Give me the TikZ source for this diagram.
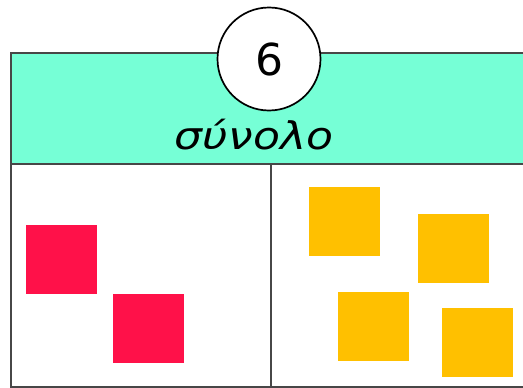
\documentclass[tikz,border=0pt]{standalone}
\usepackage{fontspec}
\setmainfont{DejaVu Sans}
\usetikzlibrary{positioning}
\definecolor{headcolor}{RGB}{118,255,214}
\definecolor{redcolor}{RGB}{255,17,73}
\definecolor{yellowcolor}{RGB}{255,192,0}
\tikzset{
  cellln/.style={draw=black!72, line width=1.3pt},
  sqbox/.style={inner sep=0pt, minimum width=71pt, minimum height=69pt},
  redsq/.style={sqbox, fill=redcolor},
  yellowsq/.style={sqbox, fill=yellowcolor},
}
\begin{document}
\begin{tikzpicture}[x=1pt,y=-1pt]
  \useasboundingbox (0,0) rectangle (523,388);
  % ----- header -----
  \fill[headcolor] (11,53) rectangle (524,164);
  \draw[cellln] (524,53) -- (11,53) -- (11,387) -- (524,387);
  \draw[cellln] (11,164) -- (524,164);
  \draw[cellln] (271,164) -- (271,387);
  \node[circle, draw=black, line width=1.7pt, fill=white, minimum size=103pt,
        inner sep=0pt, font=\fontsize{44}{44}\selectfont] (count) at (269,59) {6};
  \node[anchor=base, font=\fontsize{38}{38}\selectfont\itshape, xscale=1.16] (label) at (254,149) {σύνολο};
  % ----- left cell -----
  \node[redsq] (r1) at (61.5,259.5) {};
  \node[redsq] (r2) at (148.5,328.5) {};
  % ----- right cell -----
  \node[yellowsq] (y1) at (344.5,221.5) {};
  \node[yellowsq] (y2) at (453.5,248.5) {};
  \node[yellowsq] (y3) at (373.5,326.5) {};
  \node[yellowsq] (y4) at (477.5,342.5) {};
\end{tikzpicture}
\end{document}
